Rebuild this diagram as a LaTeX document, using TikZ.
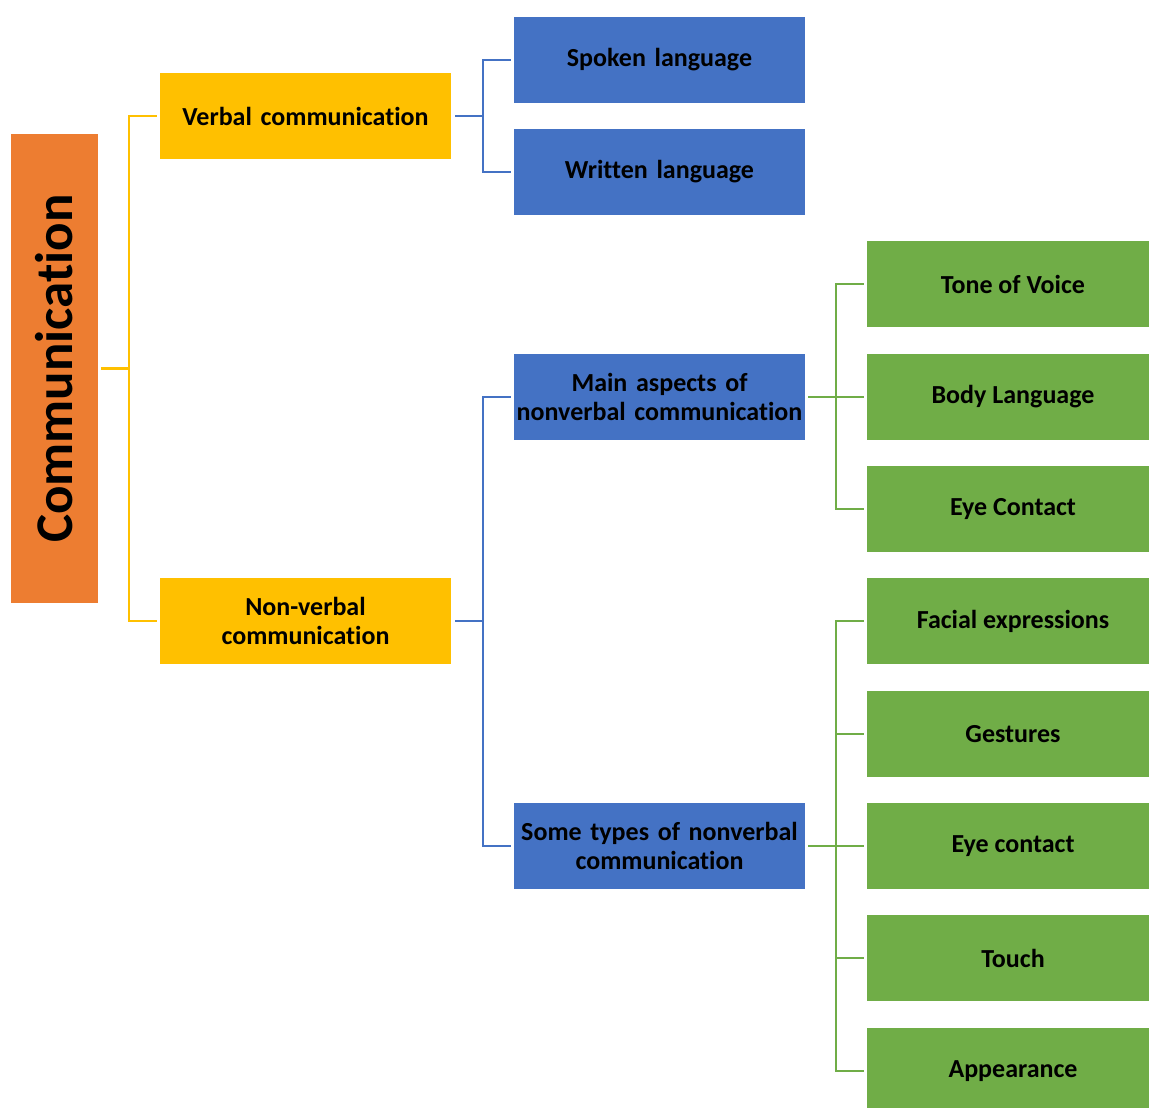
\documentclass[tikz,border=0pt]{standalone}
\usepackage{fontspec}
\setmainfont{Carlito}[Ligatures=NoCommon]
\definecolor{corange}{HTML}{ED7D31}
\definecolor{cyellow}{HTML}{FFC000}
\definecolor{cblue}{HTML}{4472C4}
\definecolor{cgreen}{HTML}{70AD47}
\tikzset{
  box/.style={rectangle, inner sep=0pt, align=center, text=black,
    font=\fontsize{26}{29}\selectfont\bfseries},
  ybox/.style={box, fill=cyellow, minimum width=291pt, minimum height=86pt, text width=291pt},
  bbox/.style={box, fill=cblue, minimum width=291pt, minimum height=86pt, text width=291pt},
  gbox/.style={box, fill=cgreen, minimum width=282pt, minimum height=86pt},
  yline/.style={draw=cyellow, line width=2.2pt},
  bline/.style={draw=cblue, line width=2.2pt},
  gline/.style={draw=cgreen, line width=2.2pt}
}
\begin{document}
\begin{tikzpicture}[x=1pt,y=-1pt]
\clip (0,0) rectangle (1149,1108);
\fill[white] (0,0) rectangle (1149,1108);
% root
\node[box, fill=corange, minimum width=87pt, minimum height=469pt] (comm) at (54.5,368.5) {};
\node[box, rotate=90, font=\fontsize{53}{60}\selectfont\bfseries] (commt) at (comm.center) {Communication};
% level 1
\node[ybox] (verbal) at (305.5,116) {Verbal communication};
\node[ybox] (nonverbal) at (305.5,621) {Non-verbal\\communication};
% level 2
\node[bbox] (spoken) at (659.5,60) {Spoken language};
\node[bbox] (written) at (659.5,172) {Written language};
\node[bbox] (main) at (659.5,397) {Main aspects of\\nonverbal communication};
\node[bbox] (some) at (659.5,846) {Some types of nonverbal\\communication};
% level 3
\node[gbox] (tone) at (1008,284) {\hspace*{10pt}Tone of Voice};
\node[gbox] (body) at (1008,397) {\hspace*{10pt}Body Language};
\node[gbox] (eye1) at (1008,509) {\hspace*{10pt}Eye Contact};
\node[gbox] (facial) at (1008,621) {\hspace*{10pt}Facial expressions};
\node[gbox] (gest) at (1008,734) {\hspace*{10pt}Gestures};
\node[gbox] (eye2) at (1008,846) {\hspace*{10pt}Eye contact};
\node[gbox] (touch) at (1008,958) {\hspace*{10pt}Touch};
\node[gbox] (appear) at (1008,1071) {\hspace*{10pt}Appearance};
% connectors: root
\coordinate (j0) at ([xshift=31pt]comm.east);
\draw[yline] ([xshift=3pt]comm.east) -- (j0);
\draw[yline] ([xshift=-3pt]verbal.west) -| (j0) |- ([xshift=-3pt]nonverbal.west);
% verbal
\coordinate (j1) at ([xshift=32pt]verbal.east);
\draw[bline] ([xshift=4pt]verbal.east) -- (j1);
\draw[bline] ([xshift=-3pt]spoken.west) -| (j1) |- ([xshift=-3pt]written.west);
% nonverbal
\coordinate (j2) at ([xshift=32pt]nonverbal.east);
\draw[bline] ([xshift=4pt]nonverbal.east) -- (j2);
\draw[bline] ([xshift=-3pt]main.west) -| (j2) |- ([xshift=-3pt]some.west);
% main aspects
\coordinate (j3) at ([xshift=31pt]main.east);
\draw[gline] ([xshift=3pt]main.east) -- (j3);
\draw[gline] ([xshift=-3pt]tone.west) -| (j3) |- ([xshift=-3pt]eye1.west);
\draw[gline] (j3) -- ([xshift=-3pt]body.west);
% some types
\coordinate (j4) at ([xshift=31pt]some.east);
\draw[gline] ([xshift=3pt]some.east) -- (j4);
\draw[gline] ([xshift=-3pt]facial.west) -| (j4) |- ([xshift=-3pt]appear.west);
\draw[gline] (j4) -- ([xshift=-3pt]eye2.west);
\draw[gline] ([xshift=-3pt]gest.west) -- (gest.west -| j4);
\draw[gline] ([xshift=-3pt]touch.west) -- (touch.west -| j4);
\end{tikzpicture}
\end{document}
